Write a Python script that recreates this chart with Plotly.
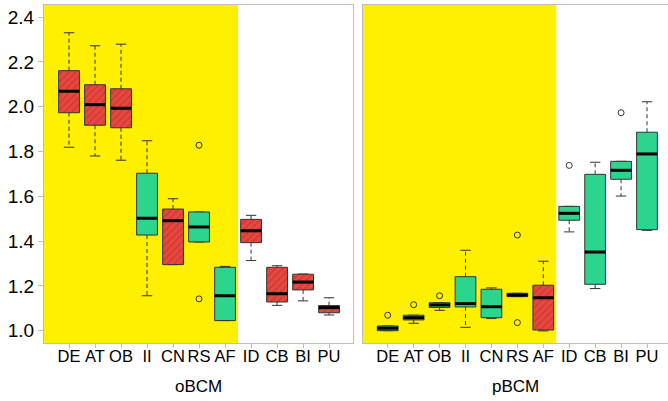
import plotly.graph_objects as go

categories = ["DE", "AT", "OB", "II", "CN", "RS", "AF", "ID", "CB", "BI", "PU"]
y_ticks = [1.0, 1.2, 1.4, 1.6, 1.8, 2.0, 2.2, 2.4]
y_tick_labels = ["1.0", "1.2", "1.4", "1.6", "1.8", "2.0", "2.2", "2.4"]

# oBCM panel
o_low = [1.819, 1.780, 1.761, 1.156, 1.295, 1.396, 1.045, 1.313, 1.113, 1.133, 1.070]
o_q1 = [1.973, 1.917, 1.906, 1.427, 1.295, 1.396, 1.045, 1.393, 1.128, 1.182, 1.080]
o_med = [2.069, 2.009, 1.993, 1.502, 1.491, 1.463, 1.156, 1.446, 1.165, 1.217, 1.103]
o_q3 = [2.161, 2.098, 2.080, 1.703, 1.543, 1.530, 1.283, 1.497, 1.283, 1.252, 1.112]
o_up = [2.330, 2.272, 2.279, 1.848, 1.589, 1.530, 1.287, 1.515, 1.290, 1.253, 1.147]
o_out = [[], [], [], [], [], [1.828, 1.142], [], [], [], [], []]
o_hatch = [True, True, True, False, True, False, False, True, True, True, True]

# pBCM panel
p_low = [1.000, 1.033, 1.091, 1.015, 1.054, 1.152, 0.999, 1.441, 1.188, 1.601, 1.448]
p_q1 = [1.000, 1.048, 1.104, 1.106, 1.058, 1.152, 1.003, 1.493, 1.207, 1.676, 1.451]
p_med = [1.011, 1.058, 1.115, 1.121, 1.107, 1.159, 1.147, 1.524, 1.351, 1.716, 1.789]
p_q3 = [1.021, 1.069, 1.125, 1.241, 1.185, 1.167, 1.203, 1.555, 1.698, 1.756, 1.886]
p_up = [1.021, 1.069, 1.125, 1.359, 1.191, 1.167, 1.310, 1.555, 1.752, 1.756, 2.022]
p_out = [[1.069], [1.116], [1.156], [], [], [1.427, 1.036], [], [1.738], [], [1.973], []]
p_hatch = [False, False, False, False, False, False, True, False, False, False, False]

panel_titles = ["oBCM", "pBCM"]

RED = "#E8473F"
RED_DARK = "#A82A25"
GREEN = "#2CD58D"
YELLOW = "#FFF000"
EDGE = "#333333"
BORDER = "#BEBEBE"
FONT = "Liberation Sans, Arial, sans-serif"

HALF = 0.4
CAP = 0.2

fig = go.Figure()


def add_panel(low, q1, med, q3, up, outs, hatch, xa, ya):
    pos = list(range(1, len(categories) + 1))
    boxes = {True: ([], []), False: ([], [])}
    wx, wy, cx, cy, mx, my, ox, oy = [], [], [], [], [], [], [], []
    for i, p in enumerate(pos):
        bx, by = boxes[hatch[i]]
        bx += [p - HALF, p + HALF, p + HALF, p - HALF, p - HALF, None]
        by += [q1[i], q1[i], q3[i], q3[i], q1[i], None]
        wx += [p, p, None, p, p, None]
        wy += [q3[i], up[i], None, q1[i], low[i], None]
        cx += [p - CAP, p + CAP, None, p - CAP, p + CAP, None]
        cy += [up[i], up[i], None, low[i], low[i], None]
        mx += [p - HALF, p + HALF, None]
        my += [med[i], med[i], None]
        for o in outs[i]:
            ox.append(p)
            oy.append(o)
    fig.add_trace(go.Scatter(x=wx, y=wy, mode="lines", xaxis=xa, yaxis=ya,
                             line=dict(color=EDGE, width=1, dash="4px,3px"),
                             hoverinfo="skip", showlegend=False))
    fig.add_trace(go.Scatter(x=cx, y=cy, mode="lines", xaxis=xa, yaxis=ya,
                             line=dict(color=EDGE, width=1),
                             hoverinfo="skip", showlegend=False))
    gx, gy = boxes[False]
    if gx:
        fig.add_trace(go.Scatter(x=gx, y=gy, mode="lines", fill="toself",
                                 fillcolor=GREEN, xaxis=xa, yaxis=ya,
                                 line=dict(color=EDGE, width=1),
                                 hoverinfo="skip", showlegend=False))
    rx, ry = boxes[True]
    if rx:
        fig.add_trace(go.Scatter(x=rx, y=ry, mode="lines", fill="toself",
                                 fillcolor=RED, xaxis=xa, yaxis=ya,
                                 fillpattern=dict(shape="/", fgcolor=RED_DARK,
                                                  bgcolor=RED, size=5,
                                                  solidity=0.25),
                                 line=dict(color=EDGE, width=1),
                                 hoverinfo="skip", showlegend=False))
    fig.add_trace(go.Scatter(x=mx, y=my, mode="lines", xaxis=xa, yaxis=ya,
                             line=dict(color="black", width=3),
                             hoverinfo="skip", showlegend=False))
    fig.add_trace(go.Scatter(x=ox, y=oy, mode="markers", xaxis=xa, yaxis=ya,
                             marker=dict(symbol="circle-open", size=6,
                                         color=EDGE, line=dict(width=1)),
                             hoverinfo="skip", showlegend=False))


add_panel(o_low, o_q1, o_med, o_q3, o_up, o_out, o_hatch, "x", "y")
add_panel(p_low, p_q1, p_med, p_q3, p_up, p_out, p_hatch, "x2", "y2")

x1_range = [0.038, 11.92]
x2_range = [0.047, 11.81]
y_range = [0.945, 2.454]

for xr, xref, yref in [(x1_range, "x", "y"), (x2_range, "x2", "y2")]:
    fig.add_shape(type="rect", xref=xref, yref=yref + " domain",
                  x0=xr[0], x1=7.5, y0=0, y1=1, fillcolor=YELLOW,
                  line=dict(width=0), layer="below")

common_x = dict(tickmode="array", tickvals=list(range(1, 12)),
                ticktext=categories, ticks="outside", ticklen=4,
                tickcolor=BORDER, showline=True, linecolor=BORDER,
                linewidth=1, mirror=True, showgrid=False, zeroline=False,
                ticklabelstandoff=-6,
                tickfont=dict(family=FONT, size=16.5, color="black"))

lay_x1 = dict(common_x)
lay_x1.update(range=x1_range, domain=[0, 309 / 624], anchor="y")
lay_x2 = dict(common_x)
lay_x2.update(range=x2_range, domain=[319 / 624, 1], anchor="y2")

fig.update_layout(
    width=668, height=401,
    margin=dict(l=44, r=0, t=5, b=58),
    paper_bgcolor="white", plot_bgcolor="white",
    xaxis=lay_x1, xaxis2=lay_x2,
    yaxis=dict(range=y_range, tickmode="array", tickvals=y_ticks,
               ticktext=y_tick_labels, ticks="outside", ticklen=5,
               tickcolor=BORDER, showline=True, linecolor=BORDER,
               linewidth=1, mirror=True, showgrid=False, zeroline=False,
               tickfont=dict(family=FONT, size=19, color="black"),
               anchor="x"),
    yaxis2=dict(range=y_range, showticklabels=False, ticks="",
                showline=True, linecolor=BORDER, linewidth=1, mirror=False,
                showgrid=False, zeroline=False, anchor="x2"),
    showlegend=False,
)

for i, (t, dom) in enumerate(zip(panel_titles, [lay_x1["domain"], lay_x2["domain"]])):
    fig.add_annotation(text=t, xref="paper", yref="paper",
                       x=(dom[0] + dom[1]) / 2, y=-43 / 338,
                       xanchor="center", yanchor="middle", showarrow=False,
                       font=dict(family=FONT, size=17, color="black"))

fig.write_html("out.html",
               config={"displayModeBar": False},
               post_script="document.body.style.margin='0px';"
                           "document.body.style.overflow='hidden';")
